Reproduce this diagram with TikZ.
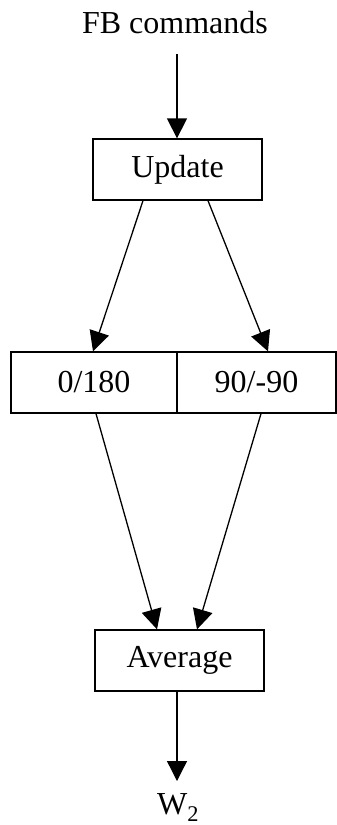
\documentclass[tikz,border=0pt]{standalone}
\usepackage{fontspec}
\setmainfont{Liberation Serif}
\usetikzlibrary{arrows.meta}
\begin{document}
\begin{tikzpicture}[x=1pt,y=-1pt,
  lbl/.style={font=\fontsize{32}{36}\selectfont, inner sep=0pt},
  box/.style={draw, line width=1.3pt, font=\fontsize{32}{36}\selectfont, inner sep=0pt},
  arr/.style={line width=1.3pt, -{Triangle[length=20pt,width=20pt]}}]
\useasboundingbox (0,0) rectangle (337,825);
\node[lbl] (fb) at (175,23) {FB commands};
\node[box, minimum width=169pt, minimum height=61pt] (upd) at (177.5,169.5) {Update};
\node[box, minimum width=166pt, minimum height=61pt] (l) at (94,382.5) {0/180};
\node[box, minimum width=159pt, minimum height=61pt] (r) at (256.5,382.5) {90/-90};
\node[box, minimum width=169pt, minimum height=61pt] (avg) at (179.5,660.5) {Average};
\node[lbl] (w) at (178,807.5) {W\textsubscript{2}};
\coordinate (fbend) at (177,54);
\coordinate (wend) at (177,781);
\draw[arr] (fbend) -- (upd.north -| fbend);
\draw[arr] ([xshift=-34.5pt]upd.south) -- ([xshift=-1pt]l.north);
\draw[arr] ([xshift=30.5pt]upd.south) -- ([xshift=11.5pt]r.north);
\draw[arr] ([xshift=2pt]l.south) -- ([xshift=-22.5pt]avg.north);
\draw[arr] ([xshift=4.5pt]r.south) -- ([xshift=17.5pt]avg.north);
\draw[arr] (avg.south -| wend) -- (wend);
\end{tikzpicture}
\end{document}
